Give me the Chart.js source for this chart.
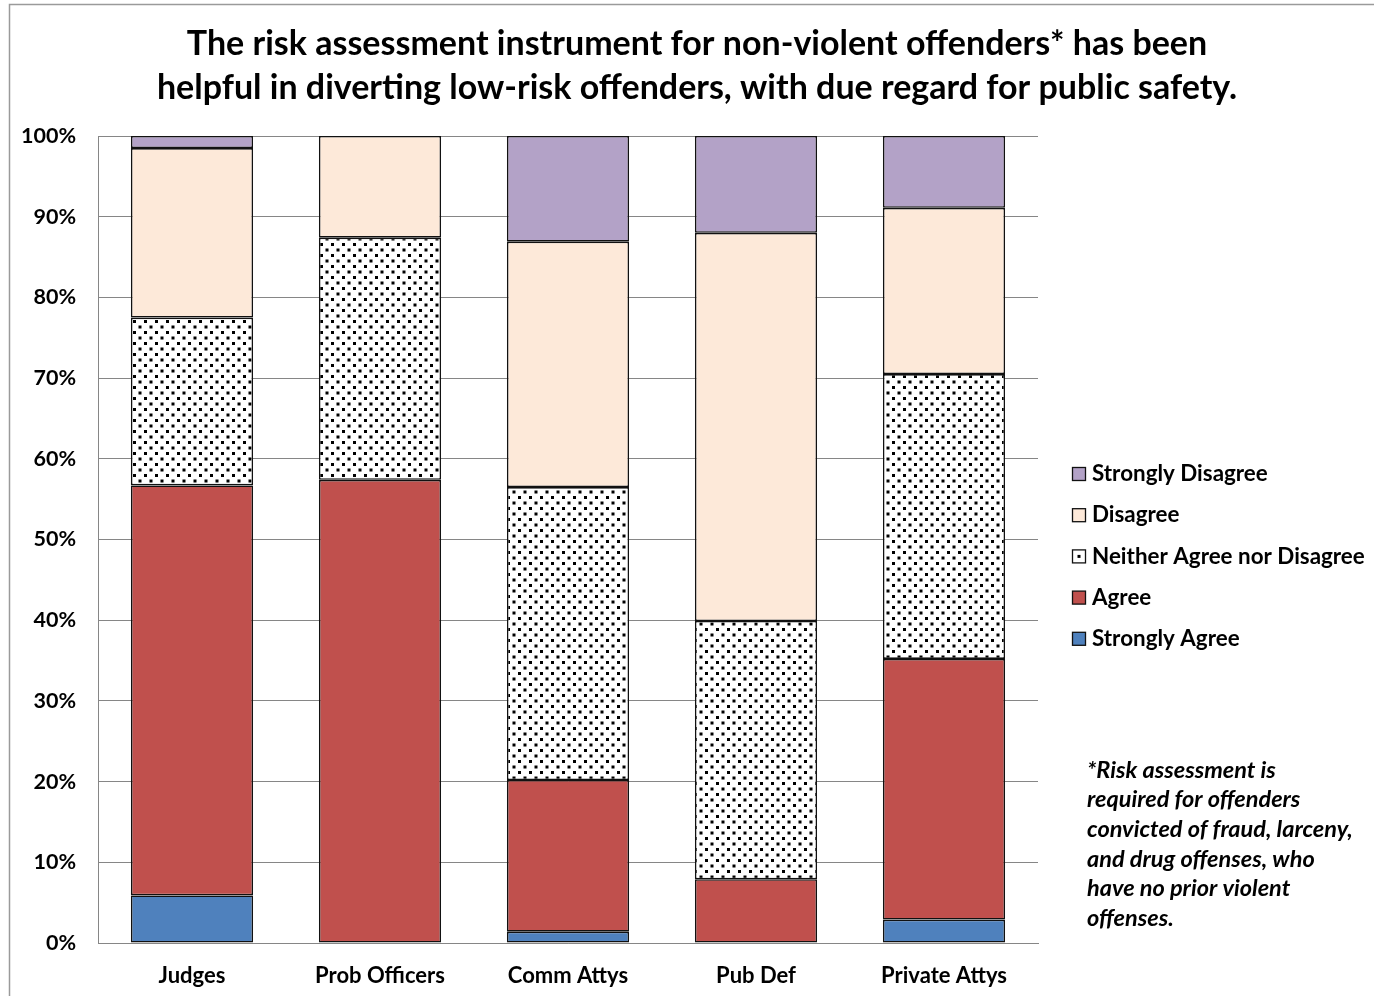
<!DOCTYPE html>
<html>
<head>
<meta charset="utf-8">
<title>Risk assessment instrument survey</title>
<script src="https://cdn.jsdelivr.net/npm/chart.js@4.4.1/dist/chart.umd.min.js"></script>
<style>
  html, body { margin: 0; padding: 0; background: #ffffff; overflow: hidden; }
  #wrap { position: relative; width: 1374px; height: 996px; }
</style>
</head>
<body>
<div id="wrap"><canvas id="chart"></canvas></div>
<script>
// Survey groups and response shares (percent of respondents)
const categories = ['Judges', 'Prob Officers', 'Comm Attys', 'Pub Def', 'Private Attys'];
const stronglyAgree    = [5.9, 0, 1.4, 0, 2.9];
const agree            = [50.8, 57.4, 18.8, 7.9, 32.3];
const neither          = [20.8, 30.0, 36.3, 32.0, 35.3];
const disagree         = [21.0, 12.6, 30.4, 48.1, 20.6];
const stronglyDisagree = [1.5, 0, 13.1, 12.0, 8.9];

const yTicks = [0, 10, 20, 30, 40, 50, 60, 70, 80, 90, 100];

const titleLines = [
  'The risk assessment instrument for non-violent offenders* has been',
  'helpful in diverting low-risk offenders, with due regard for public safety.'
];
const footnoteLines = [
  '*Risk assessment is',
  'required for offenders',
  'convicted of fraud, larceny,',
  'and drug offenses, who',
  'have no prior violent',
  'offenses.'
];

const FONT = 'Lato, Carlito, "Liberation Sans", sans-serif';

// Dotted fill used for the neutral answer
function dotPattern() {
  const c = document.createElement('canvas');
  c.width = 11; c.height = 11;
  const g = c.getContext('2d');
  g.fillStyle = '#ffffff';
  g.fillRect(0, 0, 11, 11);
  g.fillStyle = '#000000';
  g.fillRect(1, 1, 3, 3);
  g.fillRect(6.5, 6.5, 3, 3);
  return g.createPattern(c, 'repeat');
}

function build() {
  const pattern = dotPattern();

  const series = [
    { label: 'Strongly Agree', data: stronglyAgree, color: '#4F81BD' },
    { label: 'Agree', data: agree, color: '#C0504D' },
    { label: 'Neither Agree nor Disagree', data: neither, color: pattern, dotted: true },
    { label: 'Disagree', data: disagree, color: '#FDE9D9' },
    { label: 'Strongly Disagree', data: stronglyDisagree, color: '#B3A2C7' }
  ];

  const datasets = series.map(s => ({
    label: s.label,
    data: s.data,
    backgroundColor: s.color,
    borderColor: '#111111',
    borderWidth: 1.6,
    borderSkipped: false,
    barPercentage: 0.65,
    categoryPercentage: 1.0,
    dotted: !!s.dotted
  }));

  // Outer frame, title, legend and footnote
  const decorations = {
    id: 'decorations',
    beforeDraw(chart) {
      const ctx = chart.ctx;
      ctx.save();
      ctx.fillStyle = '#ffffff';
      ctx.fillRect(0, 0, chart.width, chart.height);
      ctx.strokeStyle = '#9a9a9a';
      ctx.lineWidth = 1.5;
      ctx.beginPath();
      ctx.moveTo(9.5, chart.height);
      ctx.lineTo(9.5, 4.5);
      ctx.lineTo(chart.width, 4.5);
      ctx.stroke();
      ctx.restore();
    },
    afterDraw(chart) {
      const ctx = chart.ctx;
      ctx.save();
      // Title
      ctx.fillStyle = '#000000';
      ctx.font = 'bold 34px ' + FONT;
      ctx.textAlign = 'center';
      ctx.textBaseline = 'middle';
      ctx.fillText(titleLines[0], 697, 44);
      ctx.fillText(titleLines[1], 697, 88);

      // Legend, top series first
      const items = chart.data.datasets.slice().reverse();
      ctx.font = 'bold 22.4px ' + FONT;
      ctx.textAlign = 'left';
      items.forEach((ds, i) => {
        const y = 474 + i * 41.2;
        const bx = 1072.5, by = y - 6.5, bs = 13;
        if (ds.dotted) {
          ctx.fillStyle = '#ffffff';
          ctx.fillRect(bx, by, bs, bs);
          ctx.fillStyle = '#000000';
          ctx.fillRect(bx + 5, by + 5, 3, 3);
        } else {
          ctx.fillStyle = ds.backgroundColor;
          ctx.fillRect(bx, by, bs, bs);
        }
        ctx.strokeStyle = '#111111';
        ctx.lineWidth = 1.3;
        ctx.strokeRect(bx, by, bs, bs);
        ctx.fillStyle = '#000000';
        ctx.fillText(ds.label, 1092, y);
      });

      // Footnote
      ctx.font = 'italic bold 23.5px ' + FONT;
      footnoteLines.forEach((line, i) => {
        ctx.fillText(line, 1087, 770 + i * 29.7);
      });
      ctx.restore();
    }
  };

  new Chart(document.getElementById('chart'), {
    type: 'bar',
    data: { labels: categories, datasets },
    plugins: [decorations],
    options: {
      responsive: true,
      maintainAspectRatio: false,
      animation: false,
      layout: { padding: { top: 136, right: 336, bottom: 0, left: 0 } },
      plugins: {
        legend: { display: false },
        title: { display: false },
        tooltip: { enabled: false }
      },
      scales: {
        x: {
          stacked: true,
          grid: { display: false, drawTicks: false },
          border: { display: true, color: '#868686', width: 1 },
          ticks: {
            color: '#000000',
            font: { family: FONT, size: 22, weight: 'bold' },
            padding: 20,
            maxRotation: 0
          },
          afterFit(scale) { scale.height = 53; }
        },
        y: {
          stacked: true,
          min: 0,
          max: 100,
          afterBuildTicks(scale) { scale.ticks = yTicks.map(v => ({ value: v })); },
          grid: { color: '#868686', lineWidth: 1, drawTicks: false },
          border: { display: true, color: '#868686', width: 1 },
          ticks: {
            color: '#000000',
            font: { family: FONT, size: 21.5, weight: 'bold' },
            padding: 22,
            callback: v => v + '%'
          },
          afterFit(scale) { scale.width = 98; }
        }
      }
    }
  });
}

if (document.fonts && document.fonts.load) {
  Promise.all([
    document.fonts.load('bold 20px Lato'),
    document.fonts.load('italic bold 20px Lato')
  ]).then(build, build);
} else {
  build();
}
</script>
</body>
</html>
